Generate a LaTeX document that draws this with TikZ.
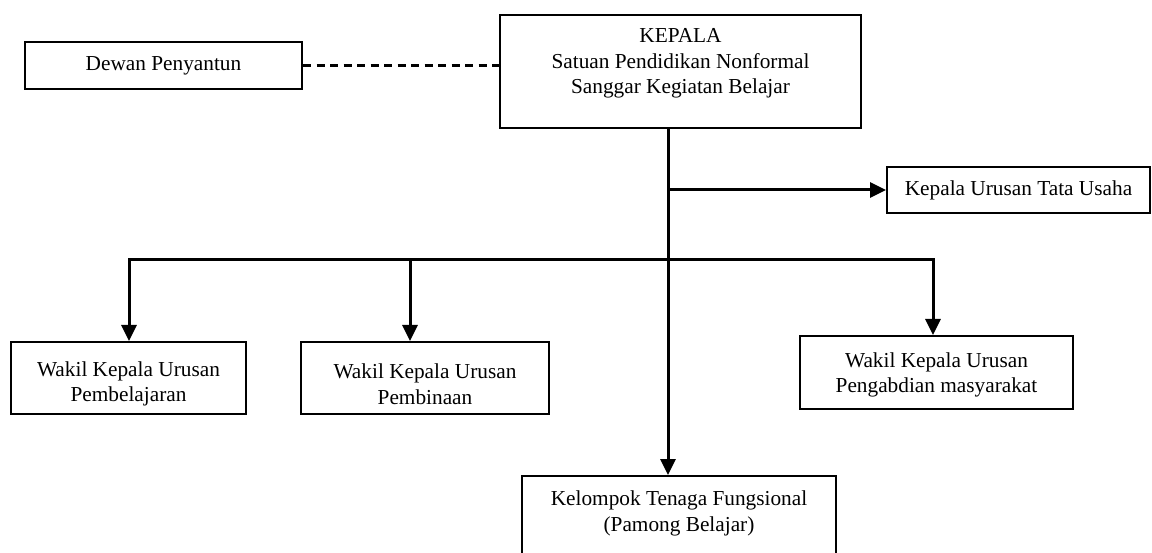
\documentclass[tikz,border=0pt]{standalone}
\usepackage{fontspec}
\setmainfont{Liberation Serif}
\usetikzlibrary{arrows.meta}

\begin{document}
\begin{tikzpicture}[x=1pt, y=-1pt]
        % ================= 样式定义 =================
        \tikzset{
            % 黑边白底方框
            kotak/.style={rectangle, draw=black, line width=2pt, fill=white, inner sep=0pt},
            % 文字
            teks/.style={align=center, inner sep=0pt, font=\fontsize{21.3}{25.5}\selectfont},
            % 连线与箭头
            garis/.style={line width=3pt, black},
            panah/.style={garis, -{Triangle[length=16pt, width=15pt]}},
            garis_putus/.style={line width=2.2pt, black, dash pattern=on 8pt off 5.5pt}
        }

        % 画面范围 (底部方框被裁切)
        \path[use as bounding box] (0,0) rectangle (1152,553);
        \clip (0,0) rectangle (1152,553);

        % ================= 方框节点 =================
        \node[kotak, teks, minimum width=277pt, minimum height=47pt] (dewan) at (163.5,65.5) {Dewan Penyantun};
        \node[kotak, minimum width=361pt, minimum height=113pt] (kepala) at (680.5,71.5) {};
        \node[teks] (kepala_teks) at (680.5,63.5) {KEPALA\\Satuan Pendidikan Nonformal\\Sanggar Kegiatan Belajar};

        \node[kotak, teks, minimum width=263pt, minimum height=46pt] (tata) at (1018.5,190) {Kepala Urusan Tata Usaha};

        \node[kotak, minimum width=235pt, minimum height=72pt] (wakil1) at (128.5,378) {};
        \node[teks] (wakil1_teks) at (128.5,384) {Wakil Kepala Urusan\\Pembelajaran};
        \node[kotak, minimum width=248pt, minimum height=72pt] (wakil2) at (425,378) {};
        \node[teks] (wakil2_teks) at (425,384) {Wakil Kepala Urusan\\Pembinaan};
        \node[kotak, minimum width=273pt, minimum height=73pt] (wakil3) at (936.5,372.5) {};
        \node[teks] (wakil3_teks) at (936.5,375) {Wakil Kepala Urusan\\Pengabdian masyarakat};

        \node[kotak, minimum width=314pt, minimum height=104pt] (kelompok) at (679,528) {};
        \node[teks] (kelompok_teks) at (679,513.5) {Kelompok Tenaga Fungsional\\(Pamong Belajar)};

        % ================= 分支点 =================
        \coordinate (batang) at (668,260);   % 主干
        \coordinate (c1) at (129,260);
        \coordinate (c2) at (410,260);
        \coordinate (c3) at (933,260);

        % ================= 连线 =================
        % 虚线: Dewan Penyantun -- KEPALA
        \draw[garis_putus] (dewan.east) -- (dewan.east -| kepala.west);

        % 主干竖线 -> Kelompok
        \draw[panah] (kepala.south -| batang) -- (kelompok.north -| batang);

        % 横向 -> Tata Usaha
        \draw[panah] (tata.west -| batang) -- (tata.west);

        % 三个 Wakil
        \draw[panah] (c2) -- (c1) -- (c1 |- wakil1.north);
        \draw[panah] (c2) -- (c2 |- wakil2.north);
        \draw[panah] (c2) -- (c3) -- (c3 |- wakil3.north);

    \end{tikzpicture}
\end{document}
